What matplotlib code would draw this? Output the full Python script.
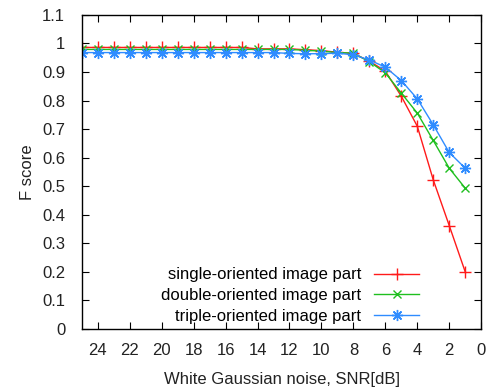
import matplotlib
matplotlib.use("Agg")
import matplotlib.pyplot as plt

plt.rcParams['font.family'] = ['Liberation Sans', 'DejaVu Sans']

# SNR en dB (eje x invertido)
snr = [25, 24, 23, 22, 21, 20, 19, 18, 17, 16, 15, 14, 13, 12, 11, 10, 9, 8, 7, 6, 5, 4, 3, 2, 1]

single = [0.986, 0.986, 0.986, 0.986, 0.986, 0.986, 0.986, 0.986, 0.986, 0.986, 0.986,
          0.981, 0.981, 0.981, 0.978, 0.975, 0.969, 0.965, 0.938, 0.903, 0.815, 0.71,
          0.522, 0.362, 0.2]
double = [0.979, 0.979, 0.979, 0.979, 0.979, 0.979, 0.979, 0.979, 0.979, 0.979, 0.979,
          0.979, 0.979, 0.979, 0.976, 0.973, 0.968, 0.966, 0.936, 0.897, 0.826, 0.756,
          0.66, 0.563, 0.493]
triple = [0.968, 0.968, 0.968, 0.968, 0.968, 0.968, 0.968, 0.968, 0.968, 0.968, 0.968,
          0.968, 0.968, 0.965, 0.964, 0.964, 0.966, 0.96, 0.942, 0.917, 0.87, 0.806,
          0.715, 0.618, 0.563]

labels = ["single-oriented image part", "double-oriented image part", "triple-oriented image part"]
x_ticks = [24, 22, 20, 18, 16, 14, 12, 10, 8, 6, 4, 2, 0]
y_ticks = [0, 0.1, 0.2, 0.3, 0.4, 0.5, 0.6, 0.7, 0.8, 0.9, 1, 1.1]
y_tick_labels = ["0", "0.1", "0.2", "0.3", "0.4", "0.5", "0.6", "0.7", "0.8", "0.9", "1", "1.1"]


def generate_line_chart(name):
    fig = plt.figure(figsize=(4.9, 3.92), dpi=100)
    ax = fig.add_axes([0.167, 0.161, 0.815, 0.801])

    ax.plot(snr, single, color="#ff1a1a", lw=1, marker="+", ms=8, mew=1, label=labels[0])
    ax.plot(snr, double, color="#1fbf1f", lw=1, marker="x", ms=6, mew=1, label=labels[1])
    ax.plot(snr, triple, color="#2f8cff", lw=1, marker=(8, 2, 0), ms=8, mew=1, label=labels[2])

    ax.set_xlim(25, 0)
    ax.set_ylim(0, 1.1)
    ax.set_xticks(x_ticks)
    ax.set_yticks(y_ticks)
    ax.set_yticklabels(y_tick_labels)
    ax.tick_params(direction="in", top=True, right=True, length=5, labelsize=12,
                   labelcolor="#222222")
    ax.tick_params(axis="x", pad=10)
    ax.tick_params(axis="y", pad=12)
    for s in ax.spines.values():
        s.set_linewidth(1)

    ax.set_xlabel("White Gaussian noise, SNR[dB]", fontsize=12, labelpad=10, color="#222222")
    ax.set_ylabel("F score", fontsize=12, labelpad=5, color="#222222")

    # leyenda sin marco, texto a la izquierda de la muestra
    ax.legend(loc="lower right", frameon=False, markerfirst=False, fontsize=12,
              handlelength=2.7, labelspacing=0.35, borderaxespad=0,
              bbox_to_anchor=(0.862, -0.006))

    plt.savefig(name)
    plt.close()


if __name__ == "__main__":
    generate_line_chart("out.png")
